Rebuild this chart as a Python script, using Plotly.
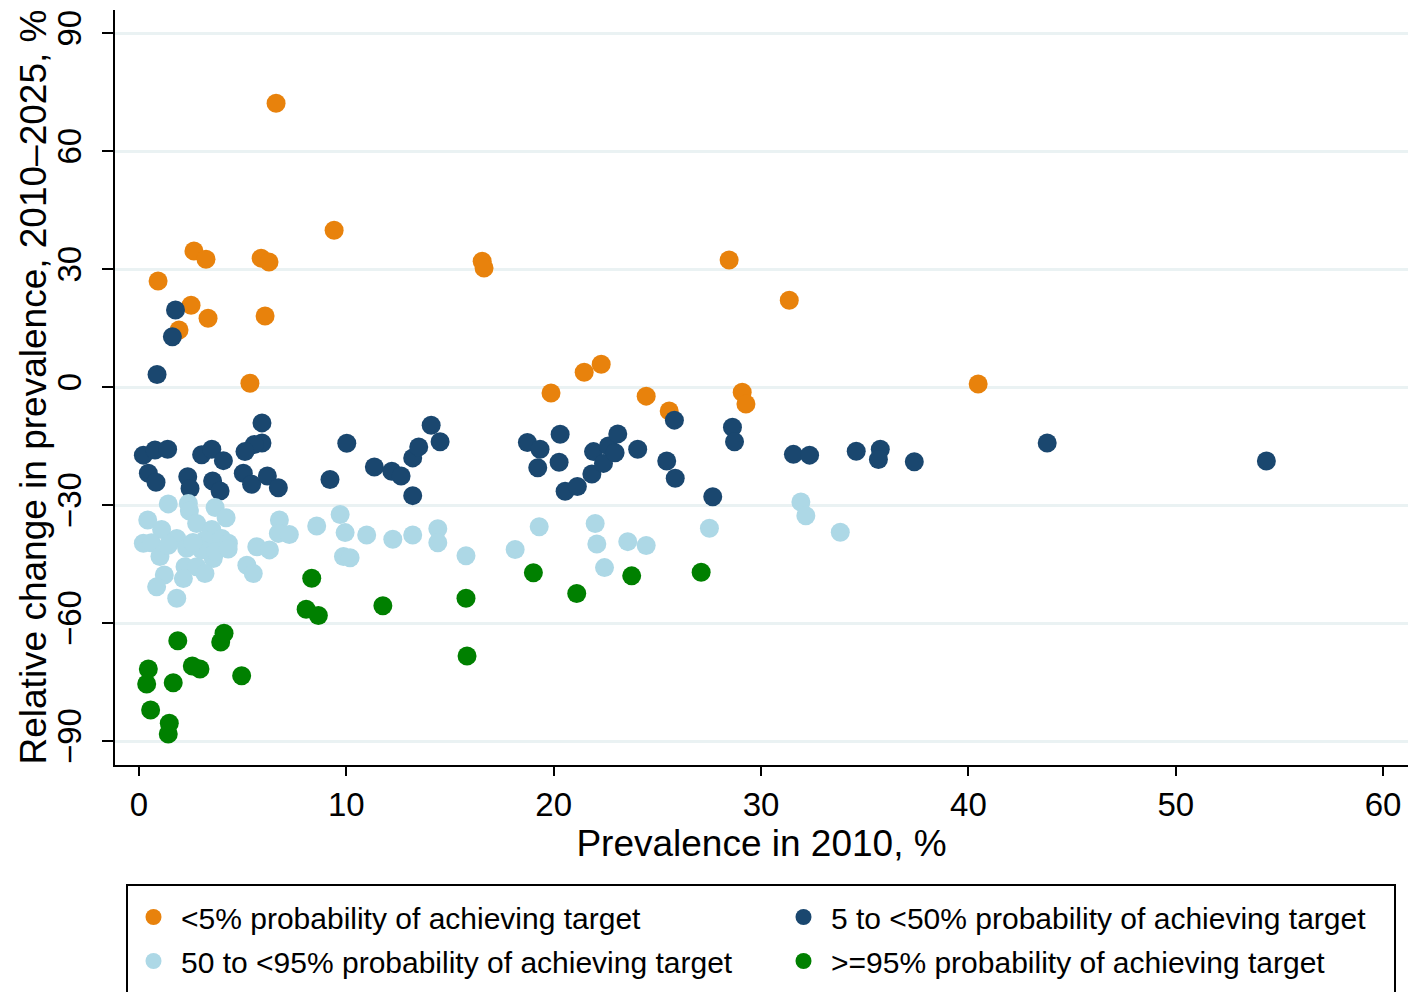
import plotly.graph_objects as go

# Prevalence in 2010 (%) and relative change 2010-2025 (%), by probability group
low_x = [6.61, 9.41, 0.92, 2.65, 3.23, 5.89, 6.27, 2.51, 1.93, 3.33, 6.08, 5.35,
         16.55, 16.64, 19.87, 21.47, 22.29, 24.46, 25.57, 28.46, 29.09, 29.27,
         31.36, 40.47]
low_y = [72.2, 39.9, 27.0, 34.6, 32.5, 32.8, 31.8, 20.8, 14.5, 17.5, 18.1, 1.0,
         32.0, 30.3, -1.5, 3.8, 5.8, -2.3, -6.1, 32.3, -1.3, -4.3, 22.1, 0.8]

mid_x = [1.76, 1.61, 0.87, 5.93, 5.93, 5.56, 5.11, 0.21, 0.77, 1.38, 3.02, 3.51,
         4.07, 0.45, 0.82, 2.35, 2.46, 3.55, 3.91, 5.03, 5.43, 6.19, 6.72, 9.21,
         10.02, 11.35, 12.19, 12.64, 13.20, 13.49, 14.09, 14.52, 13.20,
         18.73, 19.34, 19.23, 20.31, 20.26, 20.55, 21.14, 21.84, 21.92, 22.40,
         22.64, 22.96, 23.09, 24.05, 25.45, 25.82, 25.86, 27.67, 28.62, 28.72,
         31.56, 32.34, 34.59, 35.75, 35.66, 37.39, 43.80, 54.37]
mid_y = [19.6, 12.8, 3.2, -9.1, -14.2, -14.6, -16.4, -17.3, -16.0, -15.8, -17.2,
         -15.8, -18.7, -21.9, -24.2, -22.8, -25.8, -23.9, -26.4, -21.9, -24.7,
         -22.6, -25.6, -23.5, -14.3, -20.3, -21.4, -22.6, -18.0, -15.2, -9.7,
         -13.9, -27.6,
         -14.1, -15.8, -20.5, -12.0, -19.1, -26.5, -25.3, -22.1, -16.4, -19.4,
         -15.0, -16.7, -11.9, -15.8, -18.8, -8.4, -23.2, -27.9, -10.2, -13.9,
         -17.1, -17.3, -16.3, -15.8, -18.4, -19.0, -14.2, -18.8]

high_x = [1.41, 2.38, 2.43, 3.67, 4.20, 0.42, 1.09, 2.78, 3.51, 0.21, 0.60, 1.82,
          2.30, 1.01, 3.18, 3.99, 4.31, 3.58, 2.22, 2.78, 3.18, 1.22, 0.85, 1.82,
          2.14, 3.02, 1.41, 3.70, 4.30, 2.60, 6.77, 6.72, 7.25, 8.57, 9.70, 9.94,
          10.98, 9.86, 10.18, 12.24, 13.20, 14.41, 14.41, 15.77, 5.68, 6.29,
          5.20, 5.51, 18.14, 19.30, 22.00, 22.08, 23.57, 24.46, 22.45, 27.51,
          31.92, 32.16, 33.82]
high_y = [-29.7, -29.6, -31.5, -30.6, -33.2, -33.8, -36.2, -34.7, -36.2, -39.7,
          -39.6, -38.5, -41.0, -43.1, -38.9, -38.5, -39.7, -43.6, -45.7, -45.7,
          -47.4, -47.8, -50.8, -53.7, -48.7, -41.4, -40.2, -41.8, -41.2, -39.5,
          -33.8, -37.2, -37.5, -35.3, -32.4, -37.0, -37.6, -43.1, -43.4, -38.7,
          -37.6, -36.0, -39.6, -42.9, -40.6, -41.4, -45.3, -47.4, -41.3, -35.5,
          -34.7, -39.9, -39.3, -40.3, -45.9, -35.9, -29.2, -32.7, -36.9]

top_x = [1.87, 4.10, 3.94, 0.45, 0.37, 1.65, 2.57, 2.94, 4.95, 0.56, 1.46, 1.41,
         8.33, 8.06, 8.65, 11.76, 15.77, 15.82, 19.02, 21.11, 23.76, 27.11]
top_y = [-64.5, -62.6, -64.8, -71.7, -75.5, -75.2, -70.9, -71.7, -73.4, -82.1,
         -85.5, -88.2, -48.6, -56.5, -58.1, -55.6, -53.7, -68.4, -47.2, -52.5,
         -48.0, -47.1]

# (label, x, y, colour, legend column)
groups = [
    ("<5% probability of achieving target", low_x, low_y, "#E8820C", "legend"),
    ("5 to <50% probability of achieving target", mid_x, mid_y, "#1A476F", "legend2"),
    ("50 to <95% probability of achieving target", high_x, high_y, "#ADD8E6", "legend"),
    (">=95% probability of achieving target", top_x, top_y, "#008000", "legend2"),
]

FONT = "Liberation Sans, Arial, Helvetica, sans-serif"
W, H = 1408, 992
ML, MR, MT, MB = 115, 0, 10, 227
PW, PH = W - ML - MR, H - MT - MB


def px_x(p):
    """Horizontal pixel position -> paper coordinate."""
    return (p - ML) / PW


def px_y(p):
    """Vertical pixel position (from top) -> paper coordinate."""
    return (H - MB - p) / PH


fig = go.Figure()
for i, (name, xs, ys, color, leg) in enumerate(groups):
    fig.add_trace(go.Scatter(
        x=xs, y=ys, mode="markers", name=name,
        legend=leg, legendgroup=f"g{i}",
        marker=dict(size=19, color=color, line=dict(width=0)),
    ))


def legend_column(left_px):
    return dict(
        orientation="v",
        xref="container", yref="container",
        x=left_px / W, xanchor="left",
        y=1 - 891 / H, yanchor="top",
        itemwidth=45,
        tracegroupgap=2,
        font=dict(size=30, family=FONT),
        borderwidth=0,
        bgcolor="rgba(0,0,0,0)",
        itemsizing="trace",
    )


fig.update_layout(
    width=W, height=H,
    margin=dict(l=ML, r=MR, t=MT, b=MB, autoexpand=False),
    paper_bgcolor="white", plot_bgcolor="white",
    font=dict(family=FONT, color="black"),
    showlegend=True,
    legend=legend_column(126),
    legend2=legend_column(776),
    shapes=[dict(
        type="rect", xref="paper", yref="paper",
        x0=px_x(127), x1=px_x(1395), y0=px_y(885), y1=px_y(1010),
        line=dict(color="black", width=2), fillcolor="rgba(0,0,0,0)",
        layer="above",
    )],
    annotations=[dict(
        text="Relative change in prevalence, 2010\u20132025, %",
        xref="paper", yref="paper",
        x=px_x(33), y=0.5,
        xanchor="center", yanchor="middle",
        textangle=-90, showarrow=False,
        font=dict(size=37, family=FONT, color="black"),
    )],
)

fig.update_xaxes(
    range=[-1.158, 61.2],
    tickvals=[0, 10, 20, 30, 40, 50, 60],
    showgrid=False, zeroline=False, automargin=False,
    showline=True, linecolor="black", linewidth=2,
    ticks="outside", ticklen=9, tickwidth=1.5, tickcolor="black",
    tickfont=dict(size=33),
    title=dict(text="Prevalence in 2010, %", font=dict(size=37), standoff=2),
)

fig.update_yaxes(
    range=[-96.1, 95.9],
    tickvals=[-90, -60, -30, 0, 30, 60, 90],
    tickangle=-90,
    showgrid=True, gridcolor="#EAF2F3", gridwidth=3,
    zeroline=False, automargin=False,
    showline=True, linecolor="black", linewidth=2,
    ticks="outside", ticklen=11, tickwidth=1.5, tickcolor="black",
    ticklabelstandoff=8,
    tickfont=dict(size=33),
)

fig.write_html("out.html")
